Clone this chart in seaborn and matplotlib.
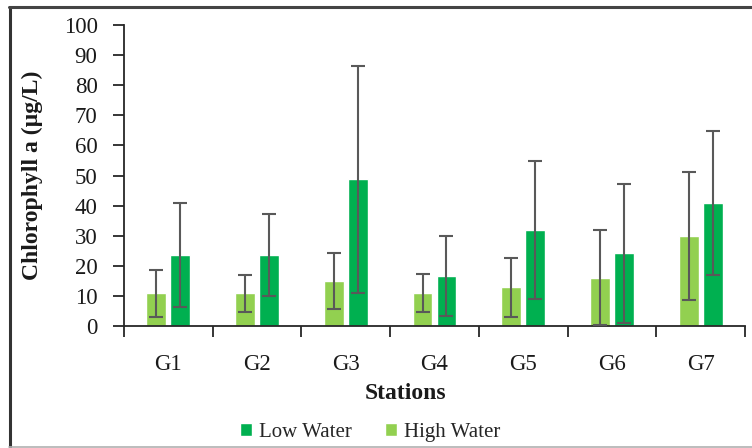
import numpy as np
import pandas as pd
import matplotlib
matplotlib.use("Agg")
import matplotlib.pyplot as plt
from matplotlib.lines import Line2D
from matplotlib.patches import Patch
import seaborn as sns

# Chlorophyll a per station (mean and standard deviation, µg/L)
stations = ["G1", "G2", "G3", "G4", "G5", "G6", "G7"]
low_water = [23.5, 23.5, 48.8, 16.7, 32.0, 24.1, 40.8]
low_water_sd = [17.3, 13.6, 37.7, 13.3, 22.9, 23.0, 23.9]
high_water = [10.8, 10.8, 14.8, 10.9, 12.8, 16.0, 30.0]
high_water_sd = [7.9, 6.0, 9.3, 6.3, 9.7, 15.8, 21.3]
y_ticks = [0, 10, 20, 30, 40, 50, 60, 70, 80, 90, 100]

season_order = ["High Water", "Low Water"]
season_colors = {"High Water": "#92D050", "Low Water": "#00B050"}
season_sd = {"High Water": high_water_sd, "Low Water": low_water_sd}

df = pd.DataFrame({
    "Station": stations * 2,
    "Season": ["Low Water"] * len(stations) + ["High Water"] * len(stations),
    "Chl": low_water + high_water,
})

sns.set_theme(style="white")
plt.rcParams["font.family"] = ["Liberation Serif", "DejaVu Serif"]

W, H = 752, 448
fig = plt.figure(figsize=(W / 100, H / 100), dpi=100)
ax = fig.add_axes([124 / W, 1 - 326 / H, 621 / W, 301 / H])

sns.barplot(data=df, x="Station", y="Chl", hue="Season", order=stations,
            hue_order=season_order, palette=season_colors, errorbar=None,
            width=0.54, gap=0.17, saturation=1, legend=False, ax=ax)

# standard-deviation whiskers on each bar
for season, container in zip(season_order, ax.containers):
    xs = [b.get_x() + b.get_width() / 2 for b in container]
    ys = [b.get_height() for b in container]
    ax.errorbar(xs, ys, yerr=season_sd[season], fmt="none", ecolor="#595959",
                elinewidth=1.5, capsize=5, capthick=1.5, zorder=3)

ax.set_ylim(0, 100)
ax.set_xlim(-0.5, len(stations) - 0.5)
ax.set_yticks(y_ticks)
ax.set_yticklabels([str(t) for t in y_ticks])

# boundary ticks between stations, labels centred on each group
ax.set_xticks(np.arange(-0.5, len(stations), 1.0))
ax.set_xticklabels([])
ax.set_xticks(np.arange(len(stations)), minor=True)
ax.set_xticklabels(stations, minor=True)
ax.tick_params(axis="x", which="major", direction="out", length=8, width=1.3,
               color="#262626", bottom=True)
ax.tick_params(axis="x", which="minor", length=0, pad=20, labelsize=16.5,
               labelcolor="#1a1a1a")
ax.tick_params(axis="y", direction="out", length=8, width=1.3, color="#262626",
               left=True, pad=11, labelsize=16.5, labelcolor="#1a1a1a")

for side in ["top", "right"]:
    ax.spines[side].set_visible(False)
for side in ["left", "bottom"]:
    ax.spines[side].set_color("#262626")
    ax.spines[side].set_linewidth(1.3)

ax.set_xlabel("Stations", fontsize=17, fontweight="bold", color="#1a1a1a")
ax.xaxis.set_label_coords((405 - 124) / 621, -(383 - 326) / 301)
ax.set_ylabel("Chlorophyll a (µg/L)", fontsize=17, fontweight="bold",
              color="#1a1a1a")
ax.yaxis.set_label_coords((43 - 124) / 621, 0.5)

handles = [Patch(facecolor=season_colors["Low Water"], label="Low Water"),
           Patch(facecolor=season_colors["High Water"], label="High Water")]
fig.legend(handles=handles, loc="center", bbox_to_anchor=(370 / W, 1 - 432 / H),
           ncol=2, frameon=False, fontsize=15, handlelength=0.6,
           handleheight=0.6, handletextpad=0.3, columnspacing=1.6)

# chart frame
fig.add_artist(Line2D([9.5 / W, 9.5 / W], [0, 1 - 7 / H], color="#333333",
                      lw=2.2, transform=fig.transFigure))
fig.add_artist(Line2D([9 / W, 1], [1 - 7.5 / H, 1 - 7.5 / H], color="#444444",
                      lw=2.2, transform=fig.transFigure))
fig.add_artist(Line2D([9 / W, 1], [1 - 446.5 / H, 1 - 446.5 / H],
                      color="#b0b0b0", lw=1.2, transform=fig.transFigure))

fig.savefig("out.png", dpi=100)
